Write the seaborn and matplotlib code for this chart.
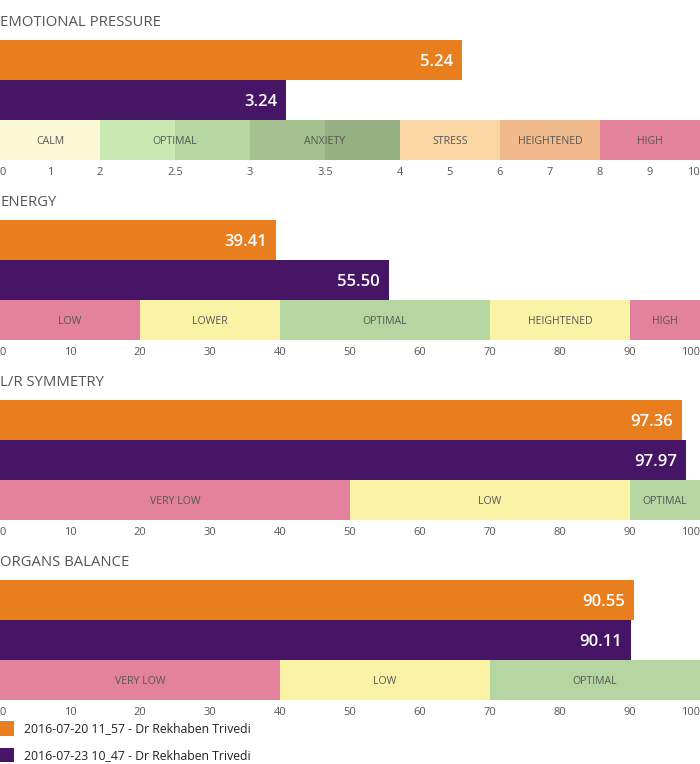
#!/usr/bin/env python3
"""
    Session comparison: four scored bars with zone strips
"""
import numpy as np
import pandas as pd
import matplotlib
matplotlib.use("Agg")
import matplotlib.pyplot as plt
import matplotlib.transforms as mtransforms
from matplotlib.patches import Patch
import seaborn as sns

sessions = ["2016-07-20 11_57 - Dr Rekhaben Trivedi",
            "2016-07-23 10_47 - Dr Rekhaben Trivedi"]
session_colors = ["#E97E1E", "#461566"]

titles = ["EMOTIONAL PRESSURE", "ENERGY", "L/R SYMMETRY", "ORGANS BALANCE"]
values = [[5.24, 3.24], [39.41, 55.50], [97.36, 97.97], [90.55, 90.11]]

ticks = [
    [0, 1, 2, 2.5, 3, 3.5, 4, 5, 6, 7, 8, 9, 10],
    list(range(0, 101, 10)),
    list(range(0, 101, 10)),
    list(range(0, 101, 10)),
]

# emotional pressure axis is piecewise: breakpoints -> evenly spaced units
emo_break_vals = [0, 1, 2, 2.5, 3, 3.5, 4, 5, 6, 7, 8, 9, 10]
emo_break_pos = [0, 1, 2, 3.5, 5, 6.5, 8, 9, 10, 11, 12, 13, 14]

zone_edges = [
    [0, 2, 3, 4, 6, 8, 10],
    [0, 20, 40, 70, 90, 100],
    [0, 50, 90, 100],
    [0, 40, 70, 100],
]
zone_names = [
    ["CALM", "OPTIMAL", "ANXIETY", "STRESS", "HEIGHTENED", "HIGH"],
    ["LOW", "LOWER", "OPTIMAL", "HEIGHTENED", "HIGH"],
    ["VERY LOW", "LOW", "OPTIMAL"],
    ["VERY LOW", "LOW", "OPTIMAL"],
]
# a zone may have two shades, split evenly along the axis
zone_colors = [
    [["#FBF8D6"], ["#C8EAB0", "#B5D6A0"], ["#A2C18F", "#95B182"],
     ["#FBD6A5"], ["#F0BA8C"], ["#E3829C"]],
    [["#E3829C"], ["#FAF3A6"], ["#B5D6A0"], ["#FAF3A6"], ["#E3829C"]],
    [["#E3829C"], ["#FAF3A6"], ["#B5D6A0"]],
    [["#E3829C"], ["#FAF3A6"], ["#B5D6A0"]],
]

sns.set_style("white")
plt.rcParams['font.family'] = ['Open Sans', 'DejaVu Sans']

W, H = 700, 764
fig = plt.figure(figsize=(W / 100, H / 100), dpi=100)


def emo_fwd(x):
    return np.interp(x, emo_break_vals, emo_break_pos)


def emo_inv(x):
    return np.interp(x, emo_break_pos, emo_break_vals)


for k in range(4):
    top = 180 * k
    ax = fig.add_axes([0, 1 - (top + 160) / H, 1, 120 / H])
    fig.text(0, 1 - (top + 22) / H, titles[k], ha="left", va="center",
             fontsize=10.7, color="#555555")

    df = pd.DataFrame({"session": sessions, "value": values[k]})
    sns.barplot(data=df, x="value", y="session", hue="session",
                palette=session_colors, saturation=1, width=1,
                linewidth=0, legend=False, ax=ax)

    if k == 0:
        ax.set_xscale("function", functions=(emo_fwd, emo_inv))
        fwd, inv = emo_fwd, emo_inv
    else:
        fwd, inv = (lambda x: x), (lambda x: x)
    ax.set_xlim(ticks[k][0], ticks[k][-1])
    ax.set_ylim(2.5, -0.5)

    down = mtransforms.offset_copy(ax.transData, fig=fig, x=0, y=-2, units="dots")

    # zone strip under the bars
    for z, name in enumerate(zone_names[k]):
        a, b = zone_edges[k][z], zone_edges[k][z + 1]
        shades = zone_colors[k][z]
        pa, pb = fwd(a), fwd(b)
        cuts = [inv(pa + (pb - pa) * i / len(shades)) for i in range(len(shades) + 1)]
        for s, c in enumerate(shades):
            ax.barh(2, cuts[s + 1] - cuts[s], left=cuts[s], height=1,
                    color=c, linewidth=0)
        ax.text(inv((pa + pb) / 2), 2, name, transform=down, ha="center",
                va="center", fontsize=7.6, color="#555555")

    # value labels inside bar ends
    shift = mtransforms.offset_copy(ax.transData, fig=fig, x=-9, y=-2, units="dots")
    for i, v in enumerate(values[k]):
        ax.text(v, i, f"{v:.2f}", transform=shift, ha="right", va="center",
                fontsize=12, fontweight="semibold", color="white")

    ax.set_xticks(ticks[k])
    ax.set_xticklabels([f"{t:g}" for t in ticks[k]])
    ax.tick_params(axis="x", length=0, pad=5, labelsize=8, labelcolor="#555555")
    labels = ax.get_xticklabels()
    labels[0].set_horizontalalignment("left")
    labels[-1].set_horizontalalignment("right")
    ax.set_yticks([])
    ax.set_xlabel("")
    ax.set_ylabel("")
    for sp in ax.spines.values():
        sp.set_visible(False)

handles = [Patch(facecolor=c, edgecolor="none") for c in session_colors]
fig.legend(handles, sessions, loc="upper left",
           bbox_to_anchor=(-0.004, 1 - 721 / H), frameon=False,
           fontsize=8.8, handlelength=1.4, handleheight=1.5,
           handletextpad=0.8, labelspacing=0.95,
           borderaxespad=0, borderpad=0, labelcolor="#222222")

fig.savefig("out.png", dpi=100)
